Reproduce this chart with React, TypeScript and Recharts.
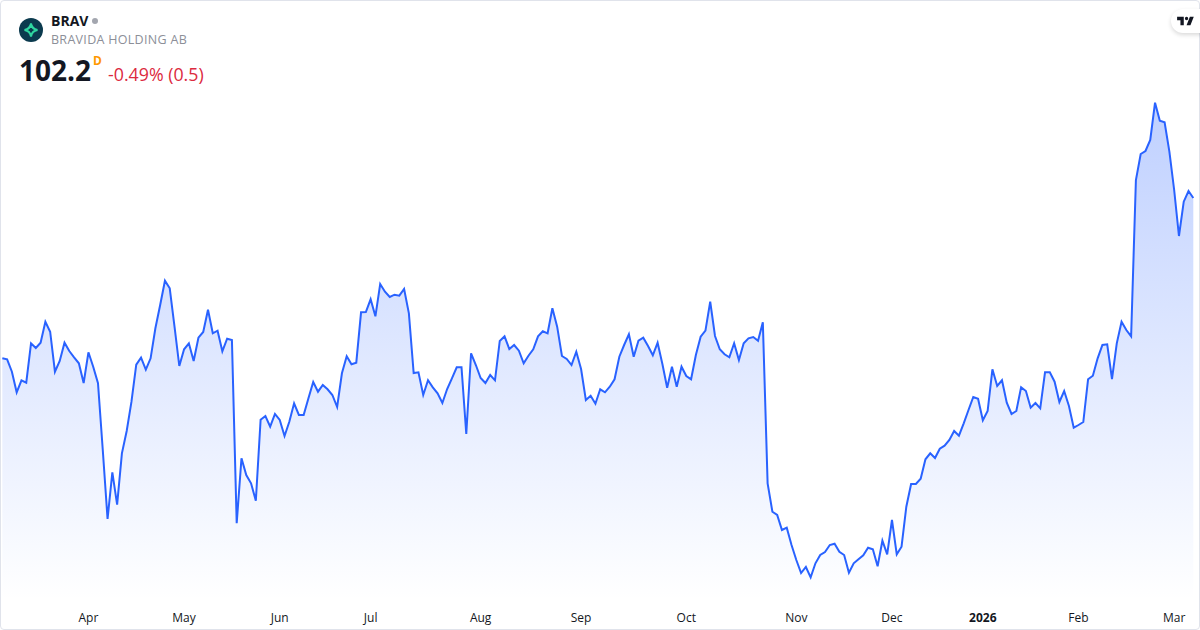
import React from "react";
import { AreaChart, Area, XAxis, YAxis } from "recharts";

const pricesSpring = [
  86.17, 86.07, 84.83, 82.77, 83.97, 83.73, 87.67, 87.2, 87.73, 89.83, 88.83, 84.83, 85.9, 87.73, 86.9, 86.27, 85.67, 83.7, 86.77, 85.33, 83.67,
  77, 70.1, 74.77, 71.53, 76.67, 78.9, 81.83, 85.53, 86.23, 85.03, 86.17, 89.17, 91.5, 93.93, 93.17, 89.33, 85.4, 87.07, 87.67, 85.9, 88.23, 88.8, 91.03, 88.67, 88.93, 86.87, 88.13, 88,
  69.67, 76.17, 74.5, 73.67, 71.93, 80.03, 80.4, 79.33, 80.6, 80, 78.4, 79.83, 81.67, 80.5,
];
const pricesSummer = [
  80.5, 82.17, 83.8, 82.83, 83.5, 83.07, 82.5, 81.3, 84.67, 86.37, 85.57, 85.73, 90.77, 90.8, 92.07, 90.37, 93.6, 92.83, 92.3, 92.53, 92.43, 93.1, 90.67, 84.7, 84.77, 82.5, 83.97, 83.27, 82.67, 81.7, 83.1, 84.17, 85.27, 85.27, 78.6,
  86.67, 85.5, 84.2, 83.7, 84.5, 83.97, 87.9, 88.37, 87.1, 87.5, 86.93, 85.67, 86.43, 87.07, 88.37, 88.87, 88.67, 91.17, 89.33, 86.4, 86.1, 85.5, 86.83, 85.1, 82, 82.43, 81.63,
];
const pricesAutumn = [
  83.07, 82.77, 83.33, 84.07, 86.33, 87.5, 88.57, 86.33, 87.93, 88.23, 87.4, 86.47, 87.73, 85.6, 83.23, 85.33, 83.33, 85.33, 84.4, 84.07, 86.5, 88.33, 88.93, 91.83, 88.4, 87.07, 86.57, 86.27, 87.67, 86, 87.67, 88.17, 88.3, 87.93, 89.77,
  73.67, 70.83, 70.5, 69, 69.23, 67.5, 66, 64.7, 65.3, 64.27, 65.67, 66.5, 66.8, 67.5, 67.63, 66.83, 66.5, 64.73, 65.67, 66.07, 66.47, 67.23, 67.07, 65.37, 67.93, 66.57, 70, 66.57,
];
const pricesWinter = [
  67.33, 71.33, 73.6, 73.6, 74.13, 76.07, 76.67, 76.2, 77.13, 77.43, 78, 78.9, 78.43, 79.67, 81, 82.3, 82.13, 79.97, 80.9, 85.07, 83.4, 83.97, 81.73, 80.6, 80.9, 83.27, 82.9, 81.23, 81.7, 81.17, 84.77, 84.77, 83.83, 81.8, 82.9, 81.4, 79.23, 79.5, 79.8,
  84.07, 84.43, 86.17, 87.5, 87.57, 84.1, 87.67, 89.83, 89, 88.37, 104, 106.6, 106.9, 108, 111.73, 109.93, 109.77, 106.83, 103, 98.4, 101.83, 102.9, 102.2,
];
const prices = [...pricesSpring, ...pricesSummer, ...pricesAutumn, ...pricesWinter];
const tickPositions = [18, 38, 58, 77, 100, 121, 143, 166, 186, 205, 225, 245];
const tickLabels = ["Apr", "May", "Jun", "Jul", "Aug", "Sep", "Oct", "Nov", "Dec", "2026", "Feb", "Mar"];
const data = prices.map((price, i) => ({ i, price }));

const FONT = '"Open Sans", sans-serif';

const MonthTick = (props: any) => {
  const { x, y, payload } = props;
  const label = tickLabels[tickPositions.indexOf(payload.value)];
  return (
    <text x={x} y={y + 16} textAnchor="middle" fontFamily={FONT} fontSize={12} fontWeight={label === "2026" ? 700 : 400} fill="#131722">
      {label}
    </text>
  );
};

const abs = (left: number, top: number, extra: React.CSSProperties): React.CSSProperties => ({
  position: "absolute", left, top, whiteSpace: "nowrap", fontFamily: FONT, lineHeight: 1, ...extra,
});

export default function App() {
  return (
    <div style={{ position: "fixed", left: 0, top: 0, width: 1200, height: 630, background: "#fff", overflow: "hidden" }}>
      <AreaChart width={1200} height={630} data={data} margin={{ top: 80, right: 6.7, bottom: 0, left: 2.33 }}>
        <defs>
          <linearGradient id="fade" x1="0" y1="0" x2="0" y2="1">
            <stop offset="0%" stopColor="#2962ff" stopOpacity={0.3} />
            <stop offset="100%" stopColor="#2962ff" stopOpacity={0} />
          </linearGradient>
        </defs>
        <XAxis dataKey="i" type="number" domain={[0, 249]} ticks={tickPositions} interval={0} axisLine={false} tickLine={false} height={30} tick={<MonthTick />} tickMargin={0} />
        <YAxis hide domain={[62, 114]} />
        <Area type="linear" dataKey="price" stroke="#2962ff" strokeWidth={2} fill="url(#fade)" fillOpacity={1} dot={false} activeDot={false} isAnimationActive={false} />
      </AreaChart>

      <div style={{ position: "absolute", inset: 0, border: "1px solid #e0e3eb", borderRadius: 4, boxSizing: "border-box", pointerEvents: "none" }} />

      <svg style={{ position: "absolute", left: 19, top: 18 }} width={24} height={24} viewBox="0 0 24 24">
        <circle cx={12} cy={12} r={12} fill="#0b3a4e" />
        <path d="M12 5.5 C12.6 9.2 14.8 11.4 18.5 12 C14.8 12.6 12.6 14.8 12 18.5 C11.4 14.8 9.2 12.6 5.5 12 C9.2 11.4 11.4 9.2 12 5.5 Z" fill="none" stroke="#2fd6a0" strokeWidth={2} />
      </svg>

      <div style={abs(51, 14, { fontSize: 14, fontWeight: 700, color: "#131722" })}>BRAV</div>
      <div style={{ position: "absolute", left: 92, top: 18, width: 6, height: 6, borderRadius: 3, background: "#a3a6af" }} />
      <div style={abs(51, 34, { fontSize: 12.5, color: "#8c8f98", letterSpacing: 0.3 })}>BRAVIDA HOLDING AB</div>
      <div style={abs(19, 56, { fontSize: 28, fontWeight: 700, color: "#131722" })}>102.2</div>
      <div style={abs(93, 55, { fontSize: 12, fontWeight: 700, color: "#ff9800" })}>D</div>
      <div style={abs(108, 66, { fontSize: 17.8, color: "#dc2a40" })}>-0.49% (0.5)</div>

      <div style={{ position: "absolute", left: 1171, top: 9, width: 40, height: 24, borderRadius: 12, background: "#fff", boxShadow: "0 2px 4px rgba(0,0,0,0.15)" }} />
      <svg style={{ position: "absolute", left: 1176, top: 15 }} width={20} height={12} viewBox="0 4 36 19">
        <path d="M14 6H2v6h6v9h6V6zm12 15h-7l6-15h7l-6 15zm-7-9a3 3 0 1 0 0-6 3 3 0 0 0 0 6z" fill="#131722" />
      </svg>
    </div>
  );
}
